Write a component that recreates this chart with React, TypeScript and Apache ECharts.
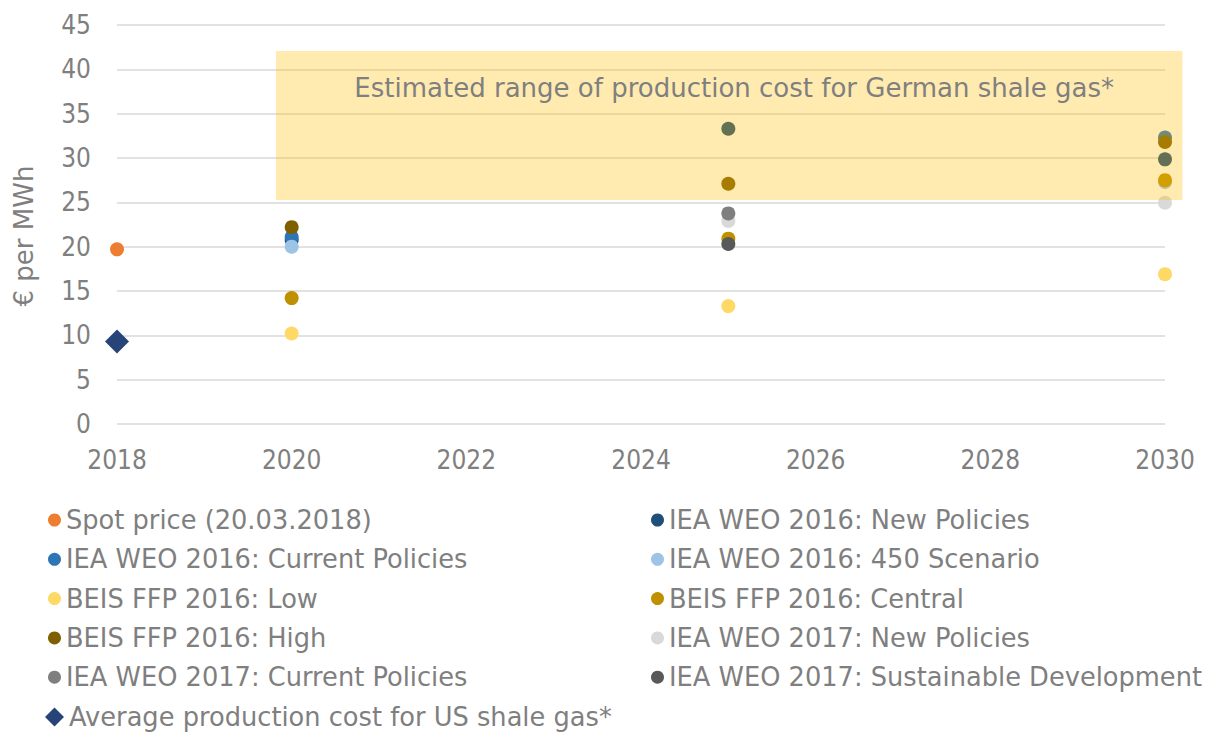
import React, { useEffect, useRef } from "react";
import * as echarts from "echarts";

const FONT = "'DejaVu Sans Condensed', 'DejaVu Sans', sans-serif";
const FONT_WIDE = "'DejaVu Sans', sans-serif";
const TEXT_COLOR = "#7f7f7f";

const xTicks = { min: 2018, max: 2030, interval: 2 };
const yTicks = { min: 0, max: 45, interval: 5 };

const spotPrice: [number, number][] = [[2018, 19.7]];
const iea16New: [number, number][] = [[2020, 20.75], [2025, 33.3], [2030, 29.85]];
const iea16Current: [number, number][] = [[2020, 21.1], [2030, 32.3]];
const iea16_450: [number, number][] = [[2020, 20.0], [2030, 27.3]];
const beisLow: [number, number][] = [[2020, 10.2], [2025, 13.3], [2030, 16.9]];
const beisCentral: [number, number][] = [[2020, 14.2], [2025, 20.9], [2030, 27.5]];
const beisHigh: [number, number][] = [[2020, 22.2], [2025, 27.1], [2030, 31.8]];
const iea17New: [number, number][] = [[2025, 22.9], [2030, 24.95]];
const iea17Current: [number, number][] = [[2025, 23.75]];
const iea17Sustainable: [number, number][] = [[2025, 20.3]];
const usShale: [number, number][] = [[2018, 9.3]];

const rangeLabel = "Estimated range of production cost for German shale gas*";
const rangeX = [2019.82, 2030.2];
const rangeY = [25.26, 42.07];
const yAxisTitle = "€ per MWh";

const seriesDefs = [
  { name: "Spot price (20.03.2018)", data: spotPrice, color: "#ED7D31", symbol: "circle" },
  { name: "IEA WEO 2016: New Policies", data: iea16New, color: "#1F4E79", symbol: "circle" },
  { name: "IEA WEO 2016: Current Policies", data: iea16Current, color: "#2E75B6", symbol: "circle" },
  { name: "IEA WEO 2016: 450 Scenario", data: iea16_450, color: "#9DC3E6", symbol: "circle" },
  { name: "BEIS FFP 2016: Low", data: beisLow, color: "#FFD966", symbol: "circle" },
  { name: "BEIS FFP 2016: Central", data: beisCentral, color: "#BF9000", symbol: "circle" },
  { name: "BEIS FFP 2016: High", data: beisHigh, color: "#7F6000", symbol: "circle" },
  { name: "IEA WEO 2017: New Policies", data: iea17New, color: "#D9D9D9", symbol: "circle" },
  { name: "IEA WEO 2017: Current Policies", data: iea17Current, color: "#7F7F7F", symbol: "circle" },
  { name: "IEA WEO 2017: Sustainable Development", data: iea17Sustainable, color: "#595959", symbol: "circle" },
  { name: "Average production cost for US shale gas*", data: usShale, color: "#264478", symbol: "diamond" },
];

const leftLegend = [0, 2, 4, 6, 8].map((i) => seriesDefs[i].name);
const diamondLegend = [seriesDefs[10].name];
const rightLegend = [1, 3, 5, 7, 9].map((i) => seriesDefs[i].name);

export default function App() {
  const ref = useRef<HTMLDivElement>(null);
  useEffect(() => {
    if (!ref.current) return;
    const chart = echarts.init(ref.current, undefined, { renderer: "svg" });
    const legendCommon = {
      orient: "vertical" as const,
      top: 502,
      height: 300,
      itemWidth: 13,
      itemHeight: 13,
      itemGap: 13.3,
      textStyle: { fontFamily: FONT_WIDE, fontSize: 25.7, color: TEXT_COLOR, lineHeight: 25 },
      selectedMode: false,
    };
    const series: any[] = seriesDefs.map((s) => ({
      type: "scatter",
      name: s.name,
      data: s.data,
      symbol: s.symbol,
      symbolSize: s.symbol === "diamond" ? 24 : 14,
      itemStyle: { color: s.color, opacity: 1 },
      z: 2,
    }));
    chart.setOption({
      animation: false,
      grid: { left: 117, right: 43, top: 25, bottom: 310, containLabel: false },
      xAxis: {
        type: "value",
        min: xTicks.min,
        max: xTicks.max,
        interval: xTicks.interval,
        axisLine: { show: false },
        axisTick: { show: false },
        splitLine: { show: false },
        axisLabel: {
          fontFamily: FONT,
          fontSize: 26,
          color: TEXT_COLOR,
          margin: 23,
          formatter: (v: number) => String(v),
        },
      },
      yAxis: {
        type: "value",
        min: yTicks.min,
        max: yTicks.max,
        interval: yTicks.interval,
        axisLine: { show: false },
        axisTick: { show: false },
        splitLine: { lineStyle: { color: "#D9D9D9", width: 1.5 } },
        axisLabel: { fontFamily: FONT, fontSize: 26, color: TEXT_COLOR, margin: 26 },
      },
      legend: [
        { ...legendCommon, left: 43, data: leftLegend },
        {
          ...legendCommon,
          top: 699,
          left: 40,
          itemWidth: 19,
          itemHeight: 19,
          data: diamondLegend,
        },
        { ...legendCommon, left: 646, data: rightLegend },
      ],
      series,
    });

    const p1 = chart.convertToPixel({ gridIndex: 0 }, [rangeX[0], rangeY[1]]) as number[];
    const p2 = chart.convertToPixel({ gridIndex: 0 }, [rangeX[1], rangeY[0]]) as number[];
    chart.setOption({
      graphic: [
        {
          type: "rect",
          z: 10,
          silent: true,
          shape: { x: p1[0], y: p1[1], width: p2[0] - p1[0], height: p2[1] - p1[1] },
          style: { fill: "rgba(255,192,0,0.31)" },
        },
        {
          type: "text",
          z: 11,
          silent: true,
          x: (p1[0] + p2[0]) / 2 + 5,
          y: p1[1] + 37,
          style: {
            text: rangeLabel,
            fontFamily: FONT_WIDE,
            fontSize: 26,
            fill: TEXT_COLOR,
            align: "center",
            verticalAlign: "middle",
          },
        },
        {
          type: "text",
          x: 24,
          y: 236,
          rotation: Math.PI / 2,
          style: {
            text: yAxisTitle,
            fontFamily: FONT_WIDE,
            fontSize: 26,
            fill: TEXT_COLOR,
            align: "center",
            verticalAlign: "middle",
          },
        },
      ],
    });
    return () => chart.dispose();
  }, []);
  return <div ref={ref} style={{ width: 1208, height: 734, position: "absolute", left: 0, top: 0 }} />;
}
